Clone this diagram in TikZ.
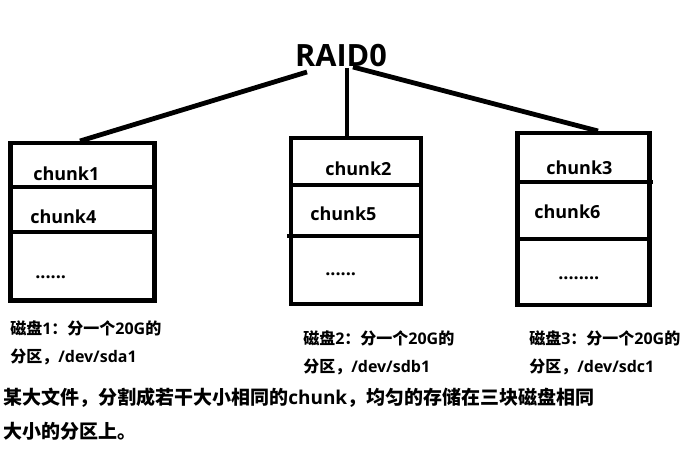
\documentclass[tikz,border=0pt]{standalone}
\usepackage{fontspec}
\setmainfont{Open Sans}
\newfontfamily\cjk{Noto Sans CJK SC}
\begin{document}
\begin{tikzpicture}[x=0.75pt,y=-0.75pt,
  disk/.style={draw, line width=3.4pt, inner sep=0pt, outer sep=0pt, anchor=north west},
  sepline/.style={line width=3pt},
  link/.style={line width=3.6pt},
  titletext/.style={anchor=base, inner sep=0pt, font=\bfseries\fontsize{23}{26}\selectfont},
  lbltext/.style={anchor=base west, inner sep=0pt, font=\bfseries\fontsize{13.5}{16}\selectfont},
  captext/.style={anchor=base west, inner sep=0pt, font=\bfseries\fontsize{12}{14}\selectfont},
  notetext/.style={anchor=base west, inner sep=0pt, font=\bfseries\fontsize{14.25}{17}\selectfont}]
\useasboundingbox (0,0) rectangle (695,449);
\fill[white] (0,0) rectangle (695,449);

% title
\node[titletext] (raid) at (341,67) {RAID0};

% disks
\node[disk, minimum width=108pt, minimum height=118.1pt] (d1) at (10.5,143) {};
\node[disk, minimum width=97.5pt, minimum height=124.5pt] (d2) at (291,138) {};
\node[disk, minimum width=99pt, minimum height=129pt] (d3) at (517.5,133) {};

% dividers
\draw[sepline] (10.5,187) -- (154.5,187);
\draw[sepline] (10.5,232) -- (154.5,232);
\draw[sepline] (291,185) -- (421,185);
\draw[sepline] (287,236) -- (421,236);
\draw[sepline] (517.5,182) -- (653,182);
\draw[sepline] (517.5,239) -- (649.5,239);

% connectors
\coordinate (r1) at (307,72);
\coordinate (r2) at (347,68);
\coordinate (r3) at (353,67);
\coordinate (t1) at (80,141);
\coordinate (t2) at (347,138);
\coordinate (t3) at (598,131);
\draw[link] (r1) -- (t1);
\draw[link] (r2) -- (t2);
\draw[link] (r3) -- (t3);

% chunk labels
\node[lbltext] (c1) at (33,180) {chunk1};
\node[lbltext] (c4) at (30,223) {chunk4};
\node[lbltext] (e1) at (35,278) {......};
\node[lbltext] (c2) at (325,175) {chunk2};
\node[lbltext] (c5) at (310,220) {chunk5};
\node[lbltext] (e2) at (325,275) {......};
\node[lbltext] (c3) at (546,174) {chunk3};
\node[lbltext] (c6) at (534,218) {chunk6};
\node[lbltext] (e3) at (558,279) {........};

% captions
\node[captext] (p1a) at (10,334) {{\cjk 磁盘}1{\cjk ：分一个}20G{\cjk 的}};
\node[captext] (p1b) at (10,362) {{\cjk 分区，}/dev/sda1};
\node[captext] (p2a) at (303,344) {{\cjk 磁盘}2{\cjk ：分一个}20G{\cjk 的}};
\node[captext] (p2b) at (303,372) {{\cjk 分区，}/dev/sdb1};
\node[captext] (p3a) at (529,344) {{\cjk 磁盘}3{\cjk ：分一个}20G{\cjk 的}};
\node[captext] (p3b) at (529,372) {{\cjk 分区，}/dev/sdc1};

% note
\node[notetext] (n1) at (3,404) {{\cjk 某大文件，分割成若干大小相同的}chunk{\cjk ，均匀的存储在三块磁盘相同}};
\node[notetext] (n2) at (3,438) {{\cjk 大小的分区上。}};
\end{tikzpicture}
\end{document}
